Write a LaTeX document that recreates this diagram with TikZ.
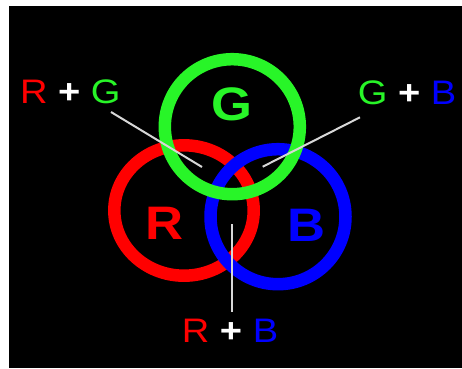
\documentclass[tikz,border=0pt]{standalone}
\usepackage{fontspec}
\setmainfont{Liberation Sans}
\newfontfamily\labfont[FakeStretch=1.12]{Liberation Sans}
\definecolor{cR}{RGB}{255,0,0}
\definecolor{cG}{RGB}{40,245,40}
\definecolor{cB}{RGB}{0,0,255}
\definecolor{lineC}{RGB}{215,215,215}
\begin{document}
\begin{tikzpicture}[x=1pt,y=-1pt,
  ring/.style={line width=12.5pt},
  big/.style={font=\labfont\bfseries\fontsize{47}{50}\selectfont, inner sep=0pt, anchor=center},
  lab/.style={font=\labfont\fontsize{34}{40}\selectfont, inner sep=0pt, anchor=base},
  pointer/.style={draw=lineC, line width=2pt}]
\useasboundingbox (0,0) rectangle (462,368);
\fill[white] (0,0) rectangle (462,368);
\fill[black] (9,6) rectangle (462,368);
% rings
\draw[ring,cR] (184,210.5) ellipse [x radius=69.7, y radius=65.2];
\draw[ring,cB] (278,216.7) circle [radius=67.5];
\draw[ring,cG] (232.3,126.7) circle [radius=67.5];
% big letters
\node[big,text=cG] (g) at (232,104) {G};
\node[big,text=cR] (r) at (164.5,223) {R};
\node[big,text=cB] (b) at (306.5,225) {B};
% labels
\node[lab] (rg) at (70.3,103.5) {\textcolor{cR}{R} \textcolor{white}{\bfseries+} \textcolor{cG}{G}};
\node[lab] (gb) at (407,104) {\textcolor{cG}{G} \textcolor{white}{\bfseries+} \textcolor{cB}{B}};
\node[lab] (rb) at (230,342.5) {\textcolor{cR}{R} \textcolor{white}{\bfseries+} \textcolor{cB}{B}};
% pointer lines
\coordinate (rgS) at (111,112);
\coordinate (rgE) at (202,167);
\coordinate (gbS) at (360,117.3);
\coordinate (gbE) at (262.7,166.7);
\coordinate (rbS) at (232.2,312);
\coordinate (rbE) at (232.2,223.5);
\draw[pointer] (rgS) -- (rgE);
\draw[pointer] (gbS) -- (gbE);
\draw[pointer] (rbS) -- (rbE);
\end{tikzpicture}
\end{document}
